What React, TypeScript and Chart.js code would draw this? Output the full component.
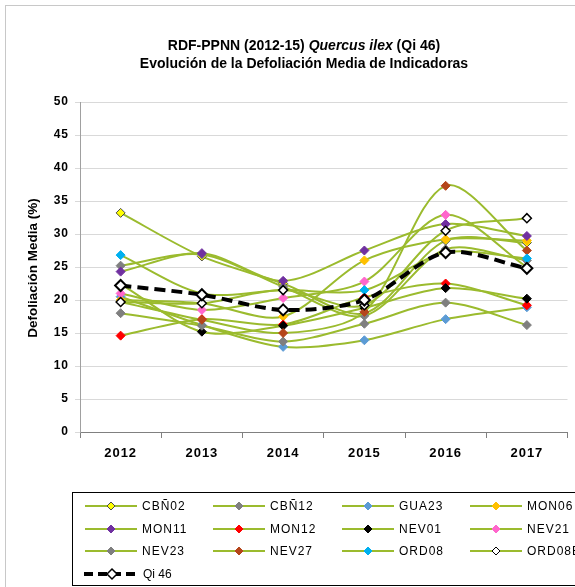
import React, { useEffect, useRef } from "react";
import { Chart, registerables } from "chart.js";

Chart.register(...registerables);

const years = ["2012", "2013", "2014", "2015", "2016", "2017"];
const yTicks = [0, 5, 10, 15, 20, 25, 30, 35, 40, 45, 50];

const cbn02 = [33.2, 26.6, 22.5, 18.0, 29.0, 28.7];
const cbn12 = [25.2, 26.9, 22.0, 17.6, 27.7, 26.0];
const gua23 = [20.5, 16.2, 12.9, 13.9, 17.1, 18.9];
const mon06 = [20.0, 19.5, 17.5, 26.0, 29.2, 29.0];
const mon11 = [24.3, 27.1, 22.9, 27.5, 31.5, 29.7];
const mon12 = [14.6, 17.1, 16.3, 20.4, 22.5, 19.2];
const nev01 = [22.4, 15.2, 16.1, 18.8, 21.8, 20.2];
const nev21 = [21.0, 18.5, 20.3, 22.8, 32.9, 25.0];
const nev23 = [18.0, 16.1, 13.7, 16.4, 19.6, 16.2];
const nev27 = [19.7, 17.0, 15.0, 18.2, 37.3, 27.5];
const ord08 = [26.8, 21.0, 21.5, 21.5, 27.2, 26.3];
const ord08b = [19.7, 19.5, 21.5, 19.2, 30.5, 32.4];
const qi46 = [22.2, 20.8, 18.5, 20.0, 27.2, 24.8];

const LINE = "#9BBB2E";
const FONT = "'Liberation Sans', Arial, sans-serif";

type S = { label: string; data: number[]; fill: string; border: string };
const series: S[] = [
  { label: "CBÑ02", data: cbn02, fill: "#FFFF00", border: "#4a4a4a" },
  { label: "CBÑ12", data: cbn12, fill: "#808080", border: "#808080" },
  { label: "GUA23", data: gua23, fill: "#5B9BD5", border: "#5B9BD5" },
  { label: "MON06", data: mon06, fill: "#FFC000", border: "#FFC000" },
  { label: "MON11", data: mon11, fill: "#7030A0", border: "#7030A0" },
  { label: "MON12", data: mon12, fill: "#FF0000", border: "#FF0000" },
  { label: "NEV01", data: nev01, fill: "#000000", border: "#000000" },
  { label: "NEV21", data: nev21, fill: "#FF66CC", border: "#FF66CC" },
  { label: "NEV23", data: nev23, fill: "#7F7F7F", border: "#7F7F7F" },
  { label: "NEV27", data: nev27, fill: "#B5451B", border: "#B5451B" },
  { label: "ORD08", data: ord08, fill: "#00B0F0", border: "#00B0F0" },
  { label: "ORD08B", data: ord08b, fill: "#FFFFFF", border: "#000000" },
];

function diamond(ctx: CanvasRenderingContext2D, x: number, y: number, r: number, fill: string, stroke: string, lw: number) {
  ctx.save();
  ctx.beginPath();
  ctx.moveTo(x, y - r);
  ctx.lineTo(x + r, y);
  ctx.lineTo(x, y + r);
  ctx.lineTo(x - r, y);
  ctx.closePath();
  ctx.fillStyle = fill;
  ctx.fill();
  ctx.lineWidth = lw;
  ctx.strokeStyle = stroke;
  ctx.stroke();
  ctx.restore();
}

const decorPlugin = {
  id: "decor",
  beforeDraw(chart: any) {
    const ctx = chart.ctx as CanvasRenderingContext2D;
    ctx.save();
    ctx.fillStyle = "#ffffff";
    ctx.fillRect(0, 0, chart.width, chart.height);
    ctx.strokeStyle = "#c8c8c8";
    ctx.lineWidth = 1;
    ctx.strokeRect(5.5, 5.5, chart.width + 10, chart.height + 10);
    ctx.restore();
    (ctx as any).letterSpacing = "1px";
  },
  afterDraw(chart: any) {
    const ctx = chart.ctx as CanvasRenderingContext2D;
    ctx.save();
    (ctx as any).letterSpacing = "0px";
    ctx.fillStyle = "#000";
    ctx.textBaseline = "middle";
    const cx = 304;
    const f1 = `bold 14px ${FONT}`;
    const f1i = `italic bold 14px ${FONT}`;
    const parts: [string, string][] = [
      ["RDF-PPNN (2012-15) ", f1],
      ["Quercus ilex", f1i],
      [" (Qi 46)", f1],
    ];
    let total = 0;
    for (const [t, f] of parts) {
      ctx.font = f;
      total += ctx.measureText(t).width;
    }
    let x = cx - total / 2;
    ctx.textAlign = "left";
    for (const [t, f] of parts) {
      ctx.font = f;
      ctx.fillText(t, x, 46);
      x += ctx.measureText(t).width;
    }
    ctx.font = f1;
    ctx.textAlign = "center";
    ctx.fillText("Evolución de la Defoliación Media de Indicadoras", cx, 64);

    ctx.save();
    ctx.translate(33, 268);
    ctx.rotate(-Math.PI / 2);
    ctx.font = `bold 13.5px ${FONT}`;
    ctx.textAlign = "center";
    ctx.fillText("Defoliación Media (%)", 0, 0);
    ctx.restore();

    ctx.strokeStyle = "#000";
    ctx.lineWidth = 1;
    ctx.strokeRect(72.5, 492.5, 520, 93);
    const colLine = [85, 213, 342, 470];
    const rows = [506, 529, 551, 574];
    ctx.font = `12px ${FONT}`;
    (ctx as any).letterSpacing = "1px";
    ctx.textAlign = "left";
    series.forEach((s, i) => {
      const c = i % 4;
      const r = Math.floor(i / 4);
      const x0 = colLine[c];
      const y = rows[r];
      ctx.beginPath();
      ctx.moveTo(x0, y);
      ctx.lineTo(x0 + 52, y);
      ctx.strokeStyle = LINE;
      ctx.lineWidth = 2;
      ctx.stroke();
      diamond(ctx, x0 + 26, y, 4, s.fill, s.border, 1);
      ctx.fillStyle = "#000";
      ctx.fillText(s.label, x0 + 57, y + 1);
    });
    const yq = rows[3];
    ctx.save();
    ctx.beginPath();
    ctx.setLineDash([9, 5]);
    ctx.moveTo(84, yq);
    ctx.lineTo(138, yq);
    ctx.strokeStyle = "#000";
    ctx.lineWidth = 4;
    ctx.stroke();
    ctx.restore();
    diamond(ctx, 112, yq, 5, "#fff", "#000", 1.5);
    (ctx as any).letterSpacing = "0px";
    ctx.fillStyle = "#000";
    ctx.fillText("Qi 46", 143, yq + 1);
    ctx.restore();
  },
};

export default function App() {
  const ref = useRef<HTMLCanvasElement>(null);
  useEffect(() => {
    const N = series.length + 1;
    const datasets: any[] = series.map((s, i) => ({
      label: s.label,
      data: s.data,
      borderColor: LINE,
      borderWidth: 2,
      backgroundColor: s.fill,
      pointStyle: "rectRot",
      pointRadius: 4.5,
      pointBackgroundColor: s.fill,
      pointBorderColor: s.border,
      pointBorderWidth: s.label === "ORD08B" ? 1.5 : 1,
      tension: 0.3,
      fill: false,
      order: N - i,
    }));
    datasets.push({
      label: "Qi 46",
      data: qi46,
      borderColor: "#000",
      borderWidth: 4,
      borderDash: [11, 6],
      pointStyle: "rectRot",
      pointRadius: 5.5,
      pointBackgroundColor: "#fff",
      pointBorderColor: "#000",
      pointBorderWidth: 2,
      tension: 0.3,
      fill: false,
      order: 0,
    });
    const chart = new Chart(ref.current!, {
      type: "line",
      data: { labels: years, datasets },
      options: {
        animation: false,
        responsive: false,
        layout: { padding: { left: 0, right: 7, top: 102, bottom: 125 } },
        plugins: { legend: { display: false }, tooltip: { enabled: false }, title: { display: false } },
        scales: {
          x: {
            type: "category",
            offset: true,
            grid: { display: true, drawOnChartArea: false, drawTicks: true, tickLength: 6, color: "#808080", offset: true },
            border: { display: true, color: "#808080" },
            ticks: { color: "#000", font: { family: FONT, size: 13, weight: "bold" }, padding: 8 },
            afterFit: (s: any) => { s.height = 30; },
          },
          y: {
            min: 0,
            max: 50,
            afterBuildTicks: (s: any) => { s.ticks = yTicks.map((v) => ({ value: v })); },
            grid: { color: "#d9d9d9", tickLength: 5 },
            border: { display: true, color: "#a0a0a0" },
            ticks: { color: "#000", font: { family: FONT, size: 12, weight: "bold" }, padding: 6 },
            afterFit: (s: any) => { s.width = 80; },
          },
        },
      },
      plugins: [decorPlugin],
    });
    return () => chart.destroy();
  }, []);
  return (
    <div style={{ position: "absolute", left: 0, top: 0 }}>
      <canvas ref={ref} width={575} height={587} style={{ width: 575, height: 587, display: "block" }} />
    </div>
  );
}
